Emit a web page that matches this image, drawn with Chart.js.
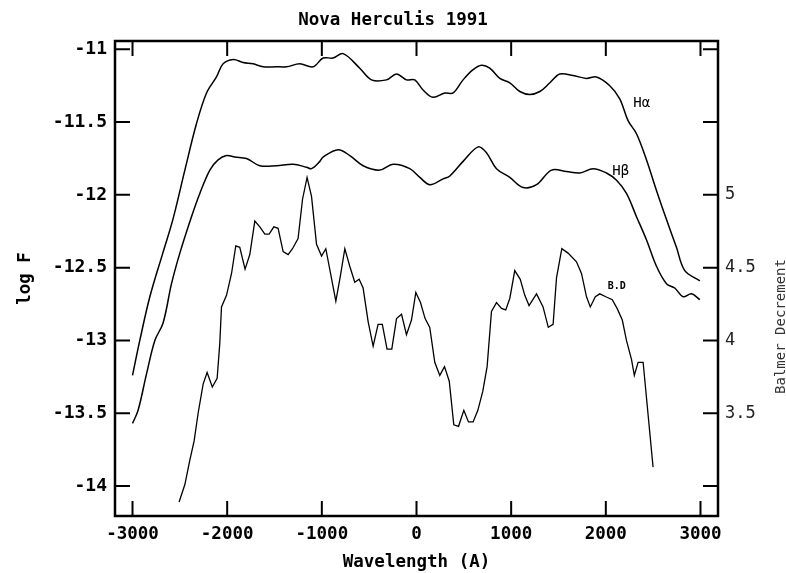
<!DOCTYPE html>
<html>
<head>
<meta charset="utf-8">
<title>Nova Herculis 1991</title>
<script src="https://cdn.jsdelivr.net/npm/chart.js@4.4.1/dist/chart.umd.min.js"></script>
<style>
    html, body { margin: 0; padding: 0; background: #fff; }
    #wrap { width: 786px; height: 573px; }
</style>
</head>
<body>
<div id="wrap"><canvas id="novaChart" width="786" height="573"></canvas></div>
<script>
// H-alpha profile (log F)
const haWave = [-3000, -2923, -2817, -2680, -2574, -2447, -2324, -2218, -2113, -2043, -1937, -1832, -1726, -1620, -1479, -1373, -1233, -1092, -987, -881, -775, -599, -475, -317, -211, -106, -18, 70, 175, 299, 387, 492, 598, 687, 774, 880, 986, 1091, 1197, 1303, 1409, 1514, 1654, 1796, 1901, 2042, 2147, 2235, 2324, 2430, 2535, 2641, 2746, 2834, 2993];
const haFlux = [-13.24, -13.00, -12.70, -12.40, -12.17, -11.83, -11.51, -11.30, -11.19, -11.10, -11.07, -11.09, -11.10, -11.12, -11.12, -11.12, -11.10, -11.12, -11.06, -11.06, -11.03, -11.13, -11.21, -11.21, -11.17, -11.21, -11.21, -11.28, -11.33, -11.30, -11.30, -11.21, -11.14, -11.11, -11.13, -11.20, -11.23, -11.29, -11.31, -11.29, -11.23, -11.17, -11.18, -11.20, -11.19, -11.25, -11.34, -11.49, -11.58, -11.76, -11.97, -12.17, -12.36, -12.52, -12.59];

// H-beta profile (log F)
const hbWave = [-3000, -2941, -2852, -2764, -2677, -2588, -2500, -2377, -2289, -2183, -2096, -2007, -1919, -1796, -1655, -1479, -1303, -1162, -1109, -1021, -987, -828, -705, -564, -388, -247, -71, 35, 141, 281, 352, 492, 651, 739, 845, 986, 1126, 1268, 1426, 1584, 1725, 1865, 2007, 2113, 2218, 2324, 2430, 2535, 2641, 2728, 2816, 2905, 2993];
const hbFlux = [-13.57, -13.48, -13.23, -13.00, -12.88, -12.61, -12.40, -12.15, -11.99, -11.83, -11.76, -11.73, -11.74, -11.75, -11.80, -11.80, -11.79, -11.81, -11.82, -11.77, -11.74, -11.69, -11.73, -11.80, -11.83, -11.79, -11.82, -11.88, -11.93, -11.89, -11.87, -11.77, -11.67, -11.71, -11.82, -11.88, -11.95, -11.93, -11.83, -11.84, -11.85, -11.82, -11.85, -11.90, -11.99, -12.15, -12.31, -12.49, -12.61, -12.64, -12.70, -12.68, -12.72];

// Balmer decrement (right axis)
const bdWave = [-2508, -2447, -2394, -2349, -2307, -2254, -2212, -2157, -2106, -2078, -2060, -2007, -1954, -1909, -1867, -1811, -1761, -1708, -1655, -1602, -1557, -1507, -1462, -1409, -1356, -1310, -1251, -1204, -1156, -1109, -1056, -1003, -958, -908, -852, -805, -757, -705, -652, -606, -564, -511, -458, -406, -361, -311, -261, -211, -158, -106, -53, -7, 42, 91, 140, 193, 246, 296, 346, 394, 444, 500, 549, 598, 648, 700, 746, 792, 845, 898, 943, 986, 1038, 1096, 1144, 1189, 1268, 1337, 1392, 1443, 1479, 1535, 1601, 1690, 1743, 1796, 1836, 1889, 1936, 2000, 2068, 2119, 2174, 2218, 2271, 2301, 2341, 2394, 2499];
const bdValue = [2.89, 3.01, 3.18, 3.31, 3.50, 3.70, 3.78, 3.68, 3.74, 3.98, 4.23, 4.31, 4.46, 4.65, 4.64, 4.49, 4.59, 4.82, 4.78, 4.73, 4.73, 4.78, 4.77, 4.61, 4.59, 4.63, 4.70, 4.97, 5.12, 4.99, 4.66, 4.58, 4.63, 4.46, 4.27, 4.44, 4.63, 4.51, 4.40, 4.42, 4.36, 4.13, 3.96, 4.11, 4.11, 3.94, 3.94, 4.15, 4.18, 4.04, 4.14, 4.33, 4.26, 4.15, 4.09, 3.85, 3.76, 3.82, 3.72, 3.42, 3.41, 3.52, 3.44, 3.44, 3.52, 3.65, 3.82, 4.20, 4.26, 4.22, 4.21, 4.29, 4.48, 4.42, 4.31, 4.24, 4.32, 4.23, 4.09, 4.11, 4.43, 4.63, 4.60, 4.54, 4.46, 4.30, 4.23, 4.30, 4.32, 4.30, 4.28, 4.22, 4.14, 4.00, 3.87, 3.76, 3.85, 3.85, 3.13];

// axes
const xRange = [-3185, 3185];
const logFRange = [-14.206, -10.943];
const bdShift = 17;                  // right axis = log F + 17
const xTicks = [-3000, -2000, -1000, 0, 1000, 2000, 3000];
const logFTicks = [-14, -13.5, -13, -12.5, -12, -11.5, -11];
const bdTicks = [3, 3.5, 4, 4.5, 5, 5.5, 6];
const bdLabelled = [3.5, 4, 4.5, 5];  // right ticks that carry a number

const FONT = "'DejaVu Sans Mono', 'Liberation Mono', monospace";

function toPoints(xs, ys) {
    return xs.map((x, i) => ({ x: x, y: ys[i] }));
}

function fixedTicks(values) {
    return scale => { scale.ticks = values.map(v => ({ value: v })); };
}

// frame, inward tick marks, curve names, right title
const framePlugin = {
    id: 'frame',
    afterDraw(chart) {
        const ctx = chart.ctx;
        const a = chart.chartArea;
        const sx = chart.scales.x, sy = chart.scales.y, sy2 = chart.scales.y2;
        const tl = 15;
        ctx.save();
        ctx.strokeStyle = '#000';
        ctx.lineWidth = 2.5;
        ctx.strokeRect(a.left, a.top, a.right - a.left, a.bottom - a.top);
        ctx.lineWidth = 2;
        ctx.beginPath();
        sx.ticks.forEach(t => {
            const p = sx.getPixelForValue(t.value);
            ctx.moveTo(p, a.bottom); ctx.lineTo(p, a.bottom - tl);
            ctx.moveTo(p, a.top); ctx.lineTo(p, a.top + tl);
        });
        sy.ticks.forEach(t => {
            const p = sy.getPixelForValue(t.value);
            ctx.moveTo(a.left, p); ctx.lineTo(a.left + tl, p);
        });
        sy2.ticks.forEach(t => {
            const p = sy2.getPixelForValue(t.value);
            ctx.moveTo(a.right, p); ctx.lineTo(a.right - tl, p);
        });
        ctx.stroke();

        // curve names
        ctx.fillStyle = '#000';
        ctx.textAlign = 'center';
        ctx.textBaseline = 'middle';
        ctx.font = '14px ' + FONT;
        ctx.fillText('H\u03b1', sx.getPixelForValue(2380), sy.getPixelForValue(-11.37));
        ctx.fillText('H\u03b2', sx.getPixelForValue(2158), sy.getPixelForValue(-11.84));
        ctx.font = 'bold 10px ' + FONT;
        ctx.fillText('B.D', sx.getPixelForValue(2116), sy.getPixelForValue(-12.63));

        // right axis title, reads bottom to top
        ctx.translate(781, (a.top + a.bottom) / 2 + 48);
        ctx.rotate(-Math.PI / 2);
        ctx.font = '14px ' + FONT;
        ctx.fillStyle = '#333';
        ctx.fillText('Balmer Decrement', 0, 0);
        ctx.restore();
    }
};

const ctx = document.getElementById('novaChart').getContext('2d');
const chart = new Chart(ctx, {
    type: 'line',
    data: {
        datasets: [{
            label: 'H\u03b1',
            data: toPoints(haWave, haFlux),
            yAxisID: 'y',
            borderColor: '#000',
            borderWidth: 1.5,
            pointRadius: 0,
            tension: 0.35
        }, {
            label: 'H\u03b2',
            data: toPoints(hbWave, hbFlux),
            yAxisID: 'y',
            borderColor: '#000',
            borderWidth: 1.5,
            pointRadius: 0,
            tension: 0.35
        }, {
            label: 'Balmer Decrement',
            data: toPoints(bdWave, bdValue),
            yAxisID: 'y2',
            borderColor: '#000',
            borderWidth: 1.3,
            pointRadius: 0,
            tension: 0
        }]
    },
    options: {
        responsive: false,
        animation: false,
        devicePixelRatio: 1,
        layout: { padding: 0 },
        plugins: {
            legend: { display: false },
            tooltip: { enabled: false },
            title: {
                display: true,
                text: 'Nova Herculis 1991',
                color: '#000',
                font: { family: FONT, size: 17.5, weight: 'bold' },
                padding: { top: 10, bottom: 10 }
            }
        },
        scales: {
            x: {
                type: 'linear',
                position: 'bottom',
                min: xRange[0],
                max: xRange[1],
                grid: { display: false, drawTicks: false },
                border: { display: false },
                afterBuildTicks: fixedTicks(xTicks),
                ticks: {
                    autoSkip: false,
                    color: '#000',
                    padding: 8,
                    maxRotation: 0,
                    font: { family: FONT, size: 17.5, weight: 'bold' },
                    callback: v => String(v)
                },
                title: {
                    display: true,
                    text: 'Wavelength (A)',
                    color: '#000',
                    font: { family: FONT, size: 17.5, weight: 'bold' },
                    padding: { top: 0, bottom: 0 }
                },
                afterFit: s => { s.height = 57; }
            },
            y: {
                type: 'linear',
                position: 'left',
                min: logFRange[0],
                max: logFRange[1],
                grid: { display: false, drawTicks: false },
                border: { display: false },
                afterBuildTicks: fixedTicks(logFTicks),
                ticks: {
                    autoSkip: false,
                    color: '#000',
                    padding: 8,
                    font: { family: FONT, size: 18, weight: 'bold' },
                    callback: v => String(v)
                },
                title: {
                    display: true,
                    text: 'log F',
                    color: '#000',
                    font: { family: FONT, size: 17.5, weight: 'bold' },
                    padding: { top: 15, bottom: 0 }
                },
                afterFit: s => { s.width = 115; }
            },
            y2: {
                type: 'linear',
                position: 'right',
                min: logFRange[0] + bdShift,
                max: logFRange[1] + bdShift,
                grid: { display: false, drawTicks: false },
                border: { display: false },
                afterBuildTicks: fixedTicks(bdTicks),
                ticks: {
                    autoSkip: false,
                    color: '#222',
                    padding: 7,
                    font: { family: FONT, size: 17 },
                    callback: v => bdLabelled.includes(v) ? String(v) : ''
                },
                afterFit: s => { s.width = 68; }
            }
        }
    },
    plugins: [framePlugin]
});
</script>
</body>
</html>
